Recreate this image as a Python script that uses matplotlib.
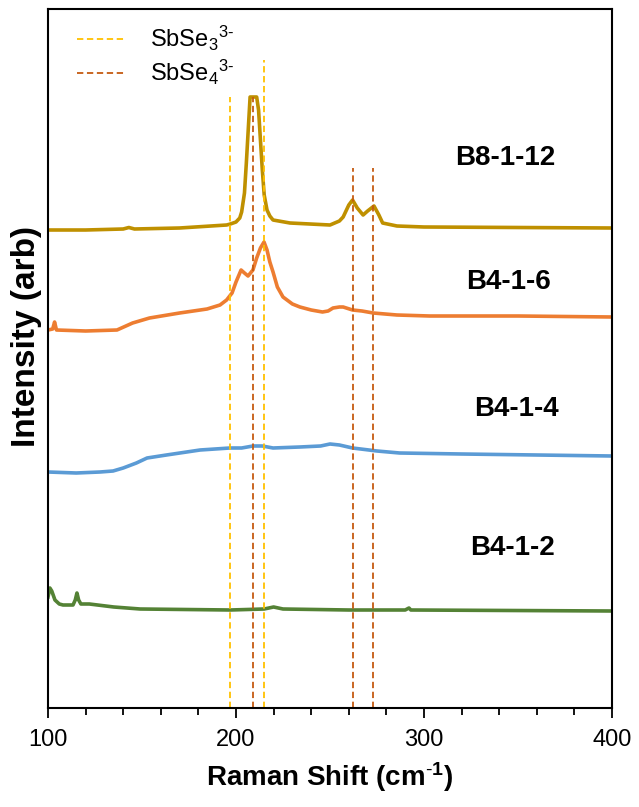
import matplotlib
matplotlib.use('Agg')
import matplotlib.pyplot as plt

plt.rcParams['font.family'] = ['Liberation Sans', 'DejaVu Sans']
plt.rcParams['mathtext.fontset'] = 'custom'
plt.rcParams['mathtext.rm'] = 'Liberation Sans'
plt.rcParams['mathtext.it'] = 'Liberation Sans:italic'
plt.rcParams['mathtext.bf'] = 'Liberation Sans:bold'

# spectra (Raman shift, stacked intensity in arb units)
b8_x = [100, 120, 140, 143, 146, 170, 195, 197, 200, 202, 203, 204.5, 205.5, 206.5, 207.5,
        211, 212, 213, 214, 215, 216.5, 218, 219.7, 228.7, 250, 255, 257, 260, 262, 264.5,
        267.6, 270, 273.4, 276, 278, 285.6, 300, 400]
b8_y = [478, 478, 479, 480.5, 479, 480, 483, 484, 486, 490, 496, 515, 545, 578, 611,
        611, 598, 568, 538, 513, 498, 492, 488, 485, 483, 487, 491, 503, 508, 500,
        493, 497, 502, 493, 485, 482, 481, 480]

b46_x = [100, 102.5, 103.5, 104.5, 120, 136.7, 145, 154, 170, 184.6, 191.5, 195, 197.9,
         200, 202.7, 204.5, 206.4, 209, 211, 213, 214.9, 216.5, 218, 219.7, 222, 225,
         230, 234, 240, 246, 249, 251.6, 255, 257, 262, 267, 273, 285.6, 303, 350, 400]
b46_y = [378, 379, 386, 378, 377, 378, 385, 390, 395, 399, 403, 408, 415,
         426, 438, 435, 432, 438, 450, 460, 466, 458, 446, 436, 421, 411,
         404, 401, 398, 396, 397, 400, 401, 401, 398, 397, 395, 393, 392, 392, 391]

b44_x = [100, 115, 127.7, 134.6, 140, 147, 152.7, 163, 180.9, 196.8, 203, 209, 214,
         219.7, 234, 245, 250, 255, 262, 275, 287, 320, 360, 400]
b44_y = [236, 235, 236, 237, 240, 245, 250, 253, 258, 260, 260, 262, 262,
         260, 261, 262, 264, 263, 260, 257, 255, 254, 253, 252]

b42_x = [100, 101, 102, 103.7, 106, 108, 113.3, 114.5, 115.4, 116.3, 117.5, 122, 135,
         149, 197, 215, 220, 225, 260, 290, 292, 293, 400]
b42_y = [111, 120, 117, 108, 104, 103, 103, 108, 115, 108, 104, 104, 101,
         99, 98, 99, 101, 99, 98, 98, 100, 98, 97]

# reference band positions and the heights their dashed lines reach
sbse3_pos = [197, 215]
sbse3_top = [611, 648]
sbse4_pos = [209, 262, 273]
sbse4_top = [611, 540, 540]

fig = plt.figure(figsize=(6.39, 8.07), dpi=100)
ax = fig.add_axes([48/639, 1 - 708/807, 564/639, 699/807])

lw = 2.6
ax.plot(b8_x, b8_y, color='#BF9000', lw=lw, solid_joinstyle='round')
ax.plot(b46_x, b46_y, color='#ED7D31', lw=lw, solid_joinstyle='round')
ax.plot(b44_x, b44_y, color='#5B9BD5', lw=lw, solid_joinstyle='round')
ax.plot(b42_x, b42_y, color='#548235', lw=lw, solid_joinstyle='round')

for i, (p, t) in enumerate(zip(sbse3_pos, sbse3_top)):
    ax.plot([p, p], [0, t], color='#FFC000', lw=1.3, dashes=(3.5, 2),
            label=r'SbSe$_{3}$$^{3\text{-}}$' if i == 0 else None)
for i, (p, t) in enumerate(zip(sbse4_pos, sbse4_top)):
    ax.plot([p, p], [0, t], color='#C55A11', lw=1.3, dashes=(3.5, 2),
            label=r'SbSe$_{4}$$^{3\text{-}}$' if i == 0 else None)

ax.text(343, 550, 'B8-1-12', fontsize=20, fontweight='bold', ha='center', va='center')
ax.text(344.7, 426, 'B4-1-6', fontsize=20, fontweight='bold', ha='center', va='center')
ax.text(349, 299, 'B4-1-4', fontsize=20, fontweight='bold', ha='center', va='center')
ax.text(347, 160, 'B4-1-2', fontsize=20, fontweight='bold', ha='center', va='center')

ax.set_xlim(100, 400)
ax.set_ylim(0, 699)
ax.set_xticks([100, 200, 300, 400])
ax.set_xticks(range(100, 401, 20), minor=True)
ax.set_yticks([])
ax.tick_params(axis='x', which='major', direction='out', length=7, width=1.3,
               labelsize=17, pad=8)
ax.tick_params(axis='x', which='minor', direction='out', length=5, width=1.3)
for s in ax.spines.values():
    s.set_linewidth(1.5)

ax.set_xlabel(r'Raman Shift (cm$^{\text{-}\mathbf{1}}$)', fontsize=20, fontweight='bold',
              labelpad=7)
ax.set_ylabel('Intensity (arb)', fontsize=24, fontweight='bold')
ax.yaxis.set_label_coords(-0.011, 0.531)

ax.legend(loc='upper left', bbox_to_anchor=(0.051, 0.978), frameon=False,
          fontsize=17, handlelength=2.0, handletextpad=1.1, borderpad=0,
          borderaxespad=0, labelspacing=0.2)

fig.savefig('out.png', dpi=100)
